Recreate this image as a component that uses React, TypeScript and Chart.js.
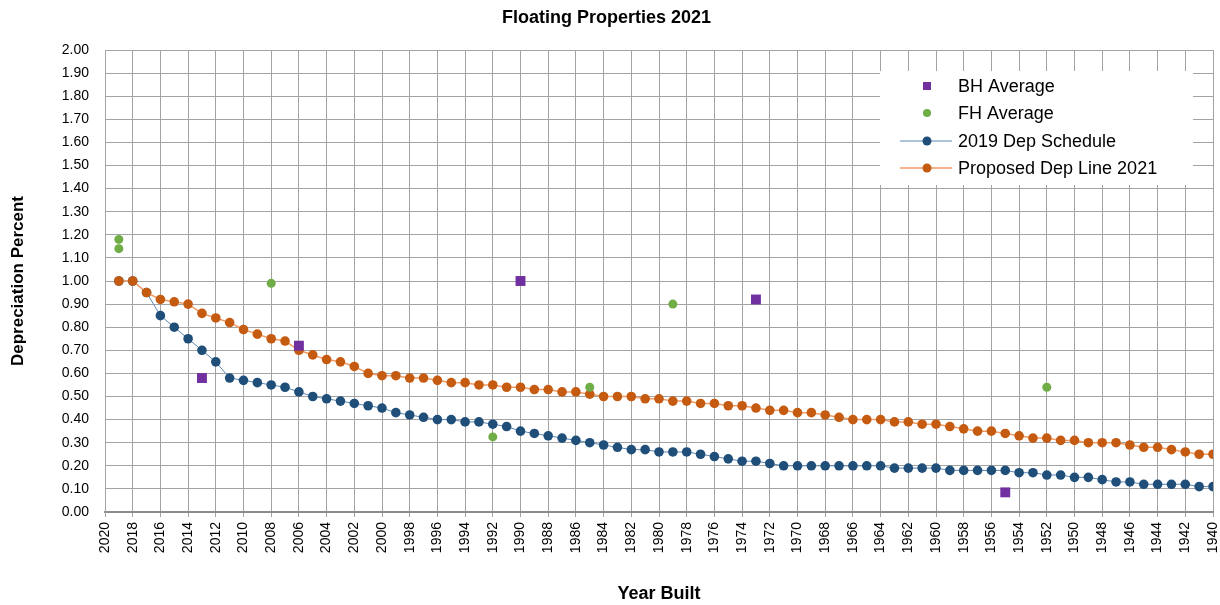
import React, { useEffect, useRef } from 'react';
import { Chart, registerables } from 'chart.js';

Chart.register(...registerables);

const years = [
  2019, 2018, 2017, 2016, 2015, 2014, 2013, 2012, 2011, 2010,
  2009, 2008, 2007, 2006, 2005, 2004, 2003, 2002, 2001, 2000,
  1999, 1998, 1997, 1996, 1995, 1994, 1993, 1992, 1991, 1990,
  1989, 1988, 1987, 1986, 1985, 1984, 1983, 1982, 1981, 1980,
  1979, 1978, 1977, 1976, 1975, 1974, 1973, 1972, 1971, 1970,
  1969, 1968, 1967, 1966, 1965, 1964, 1963, 1962, 1961, 1960,
  1959, 1958, 1957, 1956, 1955, 1954, 1953, 1952, 1951, 1950,
  1949, 1948, 1947, 1946, 1945, 1944, 1943, 1942, 1941, 1940,
];

const depSchedule2019 = [
  1.0, 1.0, 0.95, 0.85, 0.8, 0.75, 0.7, 0.65, 0.58, 0.57,
  0.56, 0.55, 0.54, 0.52, 0.5, 0.49, 0.48, 0.47, 0.46, 0.45,
  0.43, 0.42, 0.41, 0.4, 0.4, 0.39, 0.39, 0.38, 0.37, 0.35,
  0.34, 0.33, 0.32, 0.31, 0.3, 0.29, 0.28, 0.27, 0.27, 0.26,
  0.26, 0.26, 0.25, 0.24, 0.23, 0.22, 0.22, 0.21, 0.2, 0.2,
  0.2, 0.2, 0.2, 0.2, 0.2, 0.2, 0.19, 0.19, 0.19, 0.19,
  0.18, 0.18, 0.18, 0.18, 0.18, 0.17, 0.17, 0.16, 0.16, 0.15,
  0.15, 0.14, 0.13, 0.13, 0.12, 0.12, 0.12, 0.12, 0.11, 0.11,
];

const proposedDep2021 = [
  1.0, 1.0, 0.95, 0.92, 0.91, 0.9, 0.86, 0.84, 0.82, 0.79,
  0.77, 0.75, 0.74, 0.7, 0.68, 0.66, 0.65, 0.63, 0.6, 0.59,
  0.59, 0.58, 0.58, 0.57, 0.56, 0.56, 0.55, 0.55, 0.54, 0.54,
  0.53, 0.53, 0.52, 0.52, 0.51, 0.5, 0.5, 0.5, 0.49, 0.49,
  0.48, 0.48, 0.47, 0.47, 0.46, 0.46, 0.45, 0.44, 0.44, 0.43,
  0.43, 0.42, 0.41, 0.4, 0.4, 0.4, 0.39, 0.39, 0.38, 0.38,
  0.37, 0.36, 0.35, 0.35, 0.34, 0.33, 0.32, 0.32, 0.31, 0.31,
  0.3, 0.3, 0.3, 0.29, 0.28, 0.28, 0.27, 0.26, 0.25, 0.25,
];

const bhYears = [2013, 2006, 1990, 1973, 1955];
const bhValues = [0.58, 0.72, 1.0, 0.92, 0.085];

const fhYears = [2019, 2019, 2008, 1992, 1985, 1979, 1952];
const fhValues = [1.18, 1.14, 0.99, 0.325, 0.54, 0.9, 0.54];

const seriesNames = ['BH Average', 'FH Average', '2019 Dep Schedule', 'Proposed Dep Line 2021'];

const PURPLE = '#7030A0';
const GREEN = '#70AD47';
const BLUE = '#1F4E79';
const BLUE_LINE = '#5B87B5';
const ORANGE = '#C55A11';
const ORANGE_LINE = '#F19B63';
const GRID = '#A3A3A3';
const FONT = "'Liberation Sans', Arial, sans-serif";

const legendPlugin = {
  id: 'boxLegend',
  afterDatasetsDraw(chart: any) {
    const ctx = chart.ctx as CanvasRenderingContext2D;
    const area = chart.chartArea;
    const w = 313;
    const h = 114;
    const x0 = area.right - 20 - w;
    const y0 = area.top + 21;
    ctx.save();
    ctx.fillStyle = '#ffffff';
    ctx.fillRect(x0, y0, w, h);
    const mx = x0 + 47;
    const tx = x0 + 78;
    const rows = [y0 + 15, y0 + 42, y0 + 70, y0 + 97];
    ctx.font = `18px ${FONT}`;
    ctx.textBaseline = 'middle';
    ctx.textAlign = 'left';
    // BH
    ctx.fillStyle = PURPLE;
    ctx.fillRect(mx - 4, rows[0] - 4, 8, 8);
    // FH
    ctx.fillStyle = GREEN;
    ctx.beginPath();
    ctx.arc(mx, rows[1], 4, 0, Math.PI * 2);
    ctx.fill();
    // blue line
    ctx.strokeStyle = BLUE_LINE;
    ctx.lineWidth = 1;
    ctx.beginPath();
    ctx.moveTo(mx - 27, rows[2]);
    ctx.lineTo(mx + 25, rows[2]);
    ctx.stroke();
    ctx.fillStyle = BLUE;
    ctx.beginPath();
    ctx.arc(mx, rows[2], 4.5, 0, Math.PI * 2);
    ctx.fill();
    // orange line
    ctx.strokeStyle = ORANGE_LINE;
    ctx.lineWidth = 1.5;
    ctx.beginPath();
    ctx.moveTo(mx - 27, rows[3]);
    ctx.lineTo(mx + 25, rows[3]);
    ctx.stroke();
    ctx.fillStyle = ORANGE;
    ctx.beginPath();
    ctx.arc(mx, rows[3], 4.5, 0, Math.PI * 2);
    ctx.fill();
    ctx.fillStyle = '#000000';
    seriesNames.forEach((name, i) => ctx.fillText(name, tx, rows[i] + 1));
    ctx.restore();
  },
};

export default function App() {
  const canvasRef = useRef<HTMLCanvasElement | null>(null);

  useEffect(() => {
    document.body.style.margin = '0';
    const canvas = canvasRef.current;
    if (!canvas) return;
    const toPts = (xs: number[], ys: number[]) => xs.map((x, i) => ({ x, y: ys[i] }));
    const chart = new Chart(canvas, {
      type: 'line',
      data: {
        datasets: [
          {
            label: seriesNames[0],
            data: toPts(bhYears, bhValues),
            order: 0,
            showLine: false,
            pointStyle: 'rect',
            pointRadius: 7,
            backgroundColor: PURPLE,
            borderColor: PURPLE,
            pointBorderWidth: 0,
          },
          {
            label: seriesNames[1],
            data: toPts(fhYears, fhValues),
            order: 1,
            showLine: false,
            pointStyle: 'circle',
            pointRadius: 4.5,
            backgroundColor: GREEN,
            borderColor: GREEN,
            pointBorderWidth: 0,
          },
          {
            label: seriesNames[2],
            data: toPts(years, depSchedule2019),
            order: 3,
            borderColor: BLUE_LINE,
            borderWidth: 1,
            pointRadius: 4.8,
            pointBackgroundColor: BLUE,
            pointBorderColor: BLUE,
            pointBorderWidth: 0,
            backgroundColor: BLUE,
          },
          {
            label: seriesNames[3],
            data: toPts(years, proposedDep2021),
            order: 2,
            borderColor: ORANGE_LINE,
            borderWidth: 1.5,
            pointRadius: 4.8,
            pointBackgroundColor: ORANGE,
            pointBorderColor: ORANGE,
            pointBorderWidth: 0,
            backgroundColor: ORANGE,
          },
        ],
      },
      options: {
        animation: false,
        responsive: false,
        maintainAspectRatio: false,
        layout: { padding: { top: 0, right: 7, left: 0, bottom: 0 } },
        plugins: {
          legend: { display: false },
          tooltip: { enabled: false },
          title: {
            display: true,
            text: 'Floating Properties 2021',
            color: '#000000',
            font: { family: FONT, size: 18, weight: 'bold' },
            padding: { top: 7, bottom: 21.4 },
          },
        },
        scales: {
          x: {
            type: 'linear',
            reverse: true,
            min: 1940,
            max: 2020,
            afterFit: (scale: any) => {
              scale.height = 93;
              scale.paddingRight = 0;
            },
            ticks: {
              stepSize: 2,
              autoSkip: false,
              maxRotation: 90,
              minRotation: 90,
              padding: 5,
              color: '#000000',
              font: { family: FONT, size: 14 },
              callback: (v: any) => String(v),
            },
            grid: { color: GRID, lineWidth: 1, tickLength: 5 },
            border: { color: '#8C8C8C', width: 2 },
            title: {
              display: true,
              text: 'Year Built',
              color: '#000000',
              font: { family: FONT, size: 18, weight: 'bold' },
              padding: { top: 0, bottom: 0 },
            },
          },
          y: {
            min: 0,
            max: 2,
            afterFit: (scale: any) => {
              scale.width = 105;
            },
            ticks: {
              stepSize: 0.1,
              padding: 16,
              color: '#000000',
              font: { family: FONT, size: 14 },
              callback: (v: any) => Number(v).toFixed(2),
            },
            grid: { color: GRID, lineWidth: 1, drawTicks: false },
            border: { color: GRID },
            title: {
              display: true,
              text: 'Depreciation Percent',
              color: '#000000',
              font: { family: FONT, size: 17, weight: 'bold' },
              padding: { top: 8, bottom: 0 },
            },
          },
        },
      },
      plugins: [legendPlugin],
    });
    return () => chart.destroy();
  }, []);

  return (
    <div style={{ width: 1220, height: 605 }}>
      <canvas ref={canvasRef} width={1220} height={605} style={{ display: 'block' }} />
    </div>
  );
}
